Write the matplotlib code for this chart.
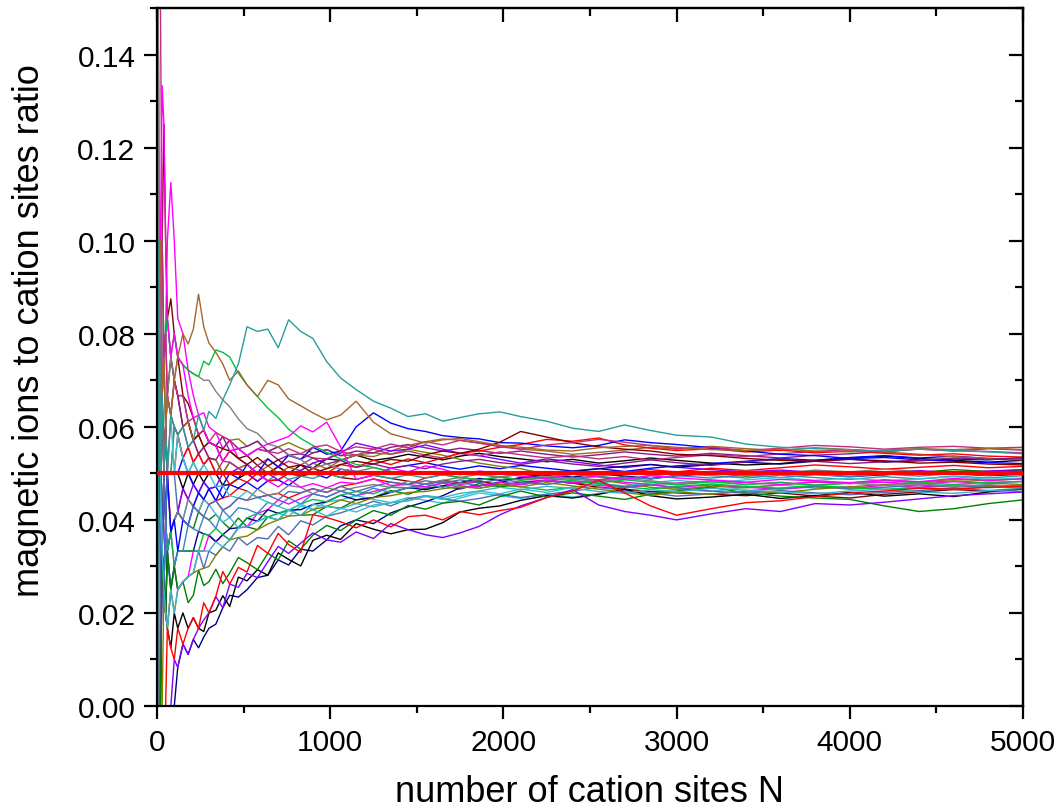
import numpy as np
import matplotlib
matplotlib.use("Agg")
import matplotlib.pyplot as plt
from matplotlib.ticker import MultipleLocator, FormatStrFormatter

plt.rcParams['font.family'] = ['Liberation Sans', 'DejaVu Sans']

# number of cation sites at which each run is sampled
sites_n = [5, 10, 20, 30, 40, 50, 60, 80, 100, 120, 150,
           180, 210, 240, 270, 300, 340, 380, 420, 470, 520, 580,
           640, 700, 760, 830, 900, 980, 1060, 1150, 1250, 1350, 1450,
           1550, 1650, 1750, 1860, 1980, 2100, 2250, 2400, 2550, 2700, 2850,
           3000, 3200, 3400, 3600, 3800, 4000, 4200, 4400, 4600, 4800, 5000]

# running ratio of magnetic ions per run, in units of 1e-4
teal_run = [0, 1000, 500, 667, 500, 600, 500, 625, 600, 583, 600,
            556, 571, 625, 593, 633, 618, 658, 690, 735, 815, 805,
            810, 770, 830, 805, 790, 740, 705, 680, 655, 640, 622,
            628, 612, 620, 628, 632, 622, 612, 597, 590, 604, 592,
            582, 578, 563, 556, 553, 551, 548, 552, 549, 546, 542]
brown_run = [0, 1000, 1000, 667, 750, 600, 667, 625, 700, 750, 800,
             778, 810, 885, 815, 780, 760, 735, 700, 720, 690, 665,
             700, 690, 660, 645, 630, 615, 625, 655, 610, 585, 575,
             565, 572, 575, 568, 560, 556, 550, 548, 555, 558, 560,
             556, 551, 549, 552, 548, 546, 550, 553, 551, 554, 551]
blue_run = [0, 0, 500, 333, 500, 400, 500, 375, 400, 333, 400,
            389, 429, 458, 444, 467, 441, 474, 500, 489, 519, 500,
            531, 514, 539, 530, 556, 541, 548, 600, 630, 608, 596,
            590, 581, 577, 574, 566, 565, 559, 555, 560, 572, 566,
            562, 555, 548, 541, 538, 532, 534, 529, 526, 523, 521]
red_low_run = [0, 0, 0, 0, 0, 0, 167, 125, 100, 167, 133,
               167, 190, 167, 222, 200, 236, 289, 262, 298, 288, 345,
               328, 371, 347, 330, 411, 405, 396, 383, 400, 385, 407,
               410, 400, 418, 411, 420, 427, 448, 462, 485, 458, 430,
               410, 424, 437, 441, 450, 458, 462, 468, 466, 470, 472]
violet_low_run = [0, 0, 0, 0, 0, 0, 0, 0, 100, 83, 133,
                  111, 143, 167, 185, 200, 235, 211, 262, 255, 285, 276,
                  310, 343, 328, 350, 372, 357, 352, 374, 360, 392, 379,
                  368, 362, 372, 386, 411, 430, 448, 465, 432, 418, 410,
                  400, 413, 424, 418, 435, 432, 438, 445, 452, 456, 460]
black_low_run = [0, 0, 500, 333, 250, 200, 167, 125, 200, 167, 200,
                 167, 190, 167, 160, 200, 206, 237, 214, 277, 269, 293,
                 281, 329, 315, 301, 356, 367, 358, 392, 380, 370, 379,
                 380, 394, 417, 425, 430, 442, 452, 447, 455, 466, 452,
                 445, 449, 455, 446, 452, 459, 451, 456, 450, 460, 466]
green_low_run = [0, 0, 0, 333, 250, 200, 333, 250, 300, 250, 267,
                 222, 238, 292, 259, 267, 294, 263, 286, 319, 308, 293,
                 328, 314, 355, 337, 367, 388, 377, 400, 420, 410, 431,
                 423, 436, 440, 432, 450, 462, 449, 458, 451, 444, 455,
                 462, 470, 458, 451, 447, 444, 430, 418, 424, 435, 443]
wine_run = [0, 1000, 1000, 1000, 1250, 1000, 833, 875, 800, 750, 667,
            650, 619, 583, 593, 567, 559, 553, 548, 532, 519, 534,
            516, 529, 513, 518, 500, 510, 519, 526, 520, 530, 526,
            540, 548, 543, 552, 567, 590, 578, 566, 557, 552, 548,
            541, 538, 532, 528, 526, 530, 527, 522, 524, 520, 518]
wine_b_run = [2000, 1000, 500, 667, 500, 600, 667, 750, 700, 667, 600,
              611, 571, 583, 556, 567, 559, 526, 548, 532, 538, 517,
              500, 514, 500, 494, 511, 500, 491, 487, 496, 489, 483,
              477, 485, 480, 484, 475, 480, 484, 479, 470, 466, 461,
              458, 455, 452, 458, 451, 447, 455, 460, 465, 462, 466]
magenta_run = [0, 1000, 1000, 1333, 1250, 1000, 833, 750, 800, 750, 733,
               667, 619, 625, 593, 567, 559, 526, 548, 553, 538, 552,
               563, 571, 579, 602, 589, 610, 557, 487, 496, 511, 503,
               516, 509, 497, 505, 500, 494, 489, 498, 492, 487, 495,
               490, 486, 481, 487, 484, 480, 486, 482, 489, 485, 488]
magenta_b_run = [0, 1000, 1000, 667, 750, 800, 1000, 1125, 1000, 833, 800,
                 722, 667, 625, 630, 600, 588, 553, 571, 532, 519, 500,
                 484, 471, 487, 470, 478, 469, 481, 478, 488, 474, 476,
                 471, 479, 469, 473, 480, 476, 484, 479, 486, 481, 476,
                 479, 484, 480, 476, 482, 478, 481, 477, 482, 479, 483]
pink_run = [2000, 2000, 1500, 1000, 750, 800, 667, 625, 700, 667, 667,
            611, 619, 583, 593, 567, 588, 579, 571, 553, 538, 552,
            547, 543, 553, 542, 556, 561, 547, 557, 552, 563, 555,
            568, 561, 571, 565, 557, 552, 561, 566, 573, 567, 560,
            553, 556, 549, 554, 560, 557, 552, 556, 558, 554, 556]
pink_b_run = [2000, 1000, 1000, 667, 500, 600, 500, 625, 600, 583, 533,
              556, 524, 542, 519, 533, 500, 526, 524, 511, 500, 517,
              531, 514, 526, 518, 533, 531, 547, 539, 552, 541, 548,
              539, 533, 543, 538, 546, 540, 533, 538, 531, 536, 529,
              534, 540, 536, 542, 547, 551, 546, 553, 549, 547, 544]
purple_run = [2000, 1000, 1000, 1000, 750, 800, 833, 750, 700, 667, 600,
              556, 571, 542, 556, 533, 529, 553, 571, 553, 558, 569,
              547, 557, 539, 542, 533, 520, 528, 513, 520, 511, 517,
              510, 520, 526, 530, 523, 519, 527, 520, 515, 522, 529,
              523, 517, 525, 530, 526, 521, 525, 528, 533, 530, 532]
olive_run = [0, 1000, 500, 667, 500, 600, 500, 500, 600, 583, 600,
             611, 571, 583, 556, 567, 559, 579, 571, 574, 558, 569,
             547, 557, 566, 554, 544, 551, 538, 539, 544, 541, 552,
             545, 539, 530, 522, 515, 510, 498, 490, 486, 478, 470,
             466, 472, 469, 475, 481, 478, 485, 481, 487, 484, 489]
navy_run = [0, 0, 0, 0, 0, 0, 0, 0, 0, 83, 133,
            111, 143, 125, 148, 167, 176, 211, 238, 234, 250, 276,
            281, 314, 303, 337, 333, 357, 387, 400, 392, 415, 428,
            439, 452, 469, 473, 480, 491, 499, 504, 510, 515, 519,
            513, 519, 524, 520, 526, 531, 524, 527, 531, 529, 534]
royal_run = [0, 0, 0, 333, 250, 200, 167, 250, 300, 250, 267,
             278, 286, 333, 296, 333, 324, 342, 333, 362, 346, 362,
             359, 386, 368, 398, 389, 408, 415, 426, 440, 430, 445,
             452, 445, 440, 446, 455, 448, 455, 462, 470, 463, 458,
             451, 456, 462, 468, 472, 466, 470, 475, 470, 474, 471]
cyan_run = [0, 1000, 500, 333, 500, 400, 333, 375, 400, 417, 400,
            444, 429, 417, 444, 433, 412, 395, 405, 383, 404, 397,
            406, 414, 408, 430, 422, 439, 443, 452, 444, 437, 448,
            442, 436, 447, 458, 452, 446, 455, 449, 457, 462, 456,
            466, 461, 470, 475, 468, 472, 466, 470, 474, 469, 473]
cyan_b_run = [2000, 1000, 1000, 667, 750, 600, 667, 625, 500, 583, 533,
              500, 524, 500, 519, 500, 471, 474, 452, 447, 462, 448,
              438, 429, 421, 434, 422, 408, 425, 417, 432, 437, 441,
              450, 444, 451, 462, 456, 466, 459, 470, 478, 473, 480,
              485, 479, 486, 491, 485, 490, 484, 488, 493, 487, 490]
gray_run = [2000, 1000, 500, 667, 750, 600, 667, 750, 700, 750, 733,
            722, 714, 708, 700, 700, 676, 658, 643, 617, 596, 586,
            563, 557, 540, 530, 511, 520, 509, 504, 512, 504, 497,
            503, 497, 491, 498, 492, 486, 493, 488, 482, 489, 484,
            478, 483, 476, 481, 475, 479, 474, 478, 472, 476, 470]
lime_run = [0, 1000, 1000, 1000, 750, 800, 833, 750, 800, 750, 733,
            722, 714, 708, 741, 733, 765, 760, 750, 715, 690, 665,
            640, 620, 595, 575, 560, 545, 531, 519, 513, 504, 496,
            503, 497, 491, 486, 492, 485, 490, 484, 479, 486, 481,
            475, 482, 476, 480, 474, 479, 485, 480, 476, 481, 482]
steel_run = [0, 0, 500, 333, 250, 400, 333, 250, 300, 333, 333,
             389, 381, 375, 407, 400, 382, 421, 405, 426, 423, 414,
             438, 429, 447, 434, 456, 449, 462, 452, 468, 459, 469,
             477, 470, 480, 473, 482, 476, 485, 491, 484, 492, 488,
             495, 490, 496, 491, 497, 493, 499, 494, 500, 496, 501]
black_run = [0, 1000, 500, 333, 500, 400, 500, 500, 500, 500, 467,
             500, 476, 500, 481, 500, 500, 474, 476, 489, 500, 483,
             500, 514, 500, 518, 511, 531, 528, 539, 528, 533, 541,
             535, 529, 537, 543, 536, 531, 525, 530, 522, 527, 533,
             528, 522, 518, 521, 528, 533, 537, 532, 528, 524, 528]
red_run = [0, 0, 500, 333, 500, 600, 500, 500, 500, 583, 533,
           556, 524, 542, 519, 533, 500, 500, 476, 489, 481, 500,
           484, 486, 500, 494, 511, 500, 519, 513, 528, 519, 531,
           523, 533, 543, 548, 556, 562, 573, 569, 576, 561, 554,
           549, 553, 546, 550, 544, 548, 543, 539, 542, 537, 535]
violet_run = [0, 0, 0, 333, 250, 400, 333, 375, 400, 417, 467,
              444, 476, 458, 481, 467, 471, 500, 500, 511, 500, 483,
              500, 486, 500, 506, 522, 531, 543, 565, 556, 548, 552,
              561, 552, 543, 538, 530, 522, 531, 525, 518, 512, 519,
              513, 508, 503, 507, 502, 497, 502, 506, 501, 505, 508]
brown_b_run = [2000, 1000, 1000, 667, 500, 600, 667, 625, 600, 583, 600,
               611, 571, 542, 556, 533, 529, 500, 524, 511, 519, 500,
               516, 500, 513, 506, 522, 510, 528, 539, 536, 548, 560,
               568, 574, 571, 565, 560, 552, 548, 541, 545, 550, 556,
               552, 558, 553, 549, 555, 551, 546, 541, 536, 532, 529]
green_run = [0, 0, 500, 333, 250, 200, 333, 375, 400, 417, 400,
             389, 381, 417, 407, 400, 412, 395, 381, 404, 385, 379,
             406, 400, 421, 410, 411, 429, 425, 443, 448, 463, 455,
             468, 473, 466, 478, 471, 476, 484, 479, 486, 493, 488,
             495, 500, 494, 499, 506, 501, 497, 502, 508, 504, 507]
olive_b_run = [0, 0, 0, 0, 250, 200, 167, 250, 200, 250, 267,
               278, 286, 292, 296, 300, 324, 342, 357, 362, 365, 379,
               391, 400, 408, 410, 422, 429, 443, 435, 448, 452, 459,
               461, 467, 471, 468, 476, 471, 480, 473, 466, 459, 452,
               460, 455, 462, 458, 466, 471, 476, 480, 484, 479, 476]
aqua_run = [0, 0, 500, 333, 250, 200, 167, 250, 200, 250, 267,
            278, 286, 333, 333, 333, 353, 342, 357, 383, 385, 397,
            406, 400, 421, 410, 433, 429, 424, 435, 428, 437, 441,
            452, 448, 457, 462, 470, 465, 472, 468, 461, 457, 465,
            460, 468, 464, 460, 456, 462, 466, 460, 457, 463, 461]
royal_b_run = [2000, 1000, 500, 333, 500, 400, 500, 500, 500, 417, 400,
               389, 429, 417, 407, 433, 441, 421, 429, 447, 442, 448,
               453, 443, 461, 458, 467, 459, 472, 461, 472, 481, 476,
               484, 479, 486, 480, 487, 481, 476, 484, 479, 471, 476,
               469, 462, 457, 463, 458, 454, 459, 463, 468, 463, 467]
blue_b_run = [0, 1000, 500, 667, 500, 600, 500, 500, 500, 500, 533,
              500, 476, 458, 481, 467, 471, 447, 476, 468, 481, 466,
              484, 486, 474, 494, 500, 490, 509, 504, 496, 511, 517,
              523, 515, 509, 516, 510, 517, 511, 505, 510, 504, 511,
              516, 521, 526, 532, 528, 534, 538, 533, 537, 532, 530]
purple_b_run = [0, 1000, 1000, 667, 750, 800, 667, 625, 700, 667, 667,
                611, 571, 583, 593, 567, 559, 579, 548, 553, 538, 552,
                547, 529, 539, 530, 544, 551, 538, 548, 544, 556, 562,
                555, 548, 554, 549, 543, 548, 541, 535, 540, 546, 541,
                537, 543, 538, 533, 539, 542, 547, 552, 548, 553, 550]
gray_b_run = [0, 0, 500, 333, 500, 400, 500, 375, 400, 417, 400,
              444, 429, 458, 444, 467, 441, 421, 429, 447, 442, 466,
              453, 457, 474, 470, 456, 469, 462, 470, 476, 470, 483,
              477, 485, 491, 486, 492, 498, 493, 500, 495, 502, 497,
              503, 498, 505, 500, 507, 503, 509, 504, 498, 502, 497]
navy_b_run = [0, 0, 0, 333, 250, 200, 333, 250, 300, 333, 333,
              333, 333, 375, 370, 367, 353, 368, 381, 383, 404, 397,
              422, 414, 421, 422, 433, 439, 453, 443, 448, 459, 469,
              465, 473, 480, 489, 485, 490, 496, 492, 499, 494, 489,
              495, 500, 497, 503, 498, 493, 497, 502, 499, 495, 498]
teal_b_run = [0, 1000, 500, 333, 500, 600, 500, 500, 600, 583, 533,
              500, 524, 500, 519, 533, 529, 500, 524, 511, 519, 500,
              484, 500, 487, 494, 489, 500, 491, 504, 496, 489, 497,
              490, 497, 503, 497, 492, 498, 493, 487, 494, 488, 495,
              500, 495, 490, 496, 491, 487, 493, 488, 494, 490, 495]
red_b_run = [0, 1000, 500, 333, 250, 400, 500, 375, 400, 417, 467,
             444, 429, 417, 444, 433, 441, 447, 452, 468, 462, 448,
             453, 457, 447, 458, 467, 459, 472, 478, 488, 481, 476,
             490, 497, 491, 486, 492, 486, 493, 488, 495, 502, 508,
             503, 511, 506, 512, 518, 514, 509, 513, 517, 512, 515]
lime_b_run = [0, 0, 500, 333, 500, 400, 333, 375, 300, 333, 333,
              333, 333, 333, 370, 367, 382, 368, 357, 383, 404, 414,
              406, 414, 421, 434, 444, 439, 453, 461, 456, 470, 469,
              471, 479, 474, 468, 475, 471, 464, 470, 476, 471, 466,
              472, 477, 472, 468, 474, 469, 465, 470, 466, 471, 468]
magenta_c_run = [0, 0, 0, 333, 250, 400, 333, 375, 300, 250, 267,
                 278, 333, 333, 333, 367, 353, 368, 357, 383, 385, 414,
                 422, 443, 434, 446, 456, 449, 462, 452, 461, 470, 469,
                 477, 482, 476, 482, 475, 481, 486, 480, 474, 469, 475,
                 470, 475, 470, 466, 471, 468, 474, 470, 476, 472, 475]

expected_ratio = 0.05

runs = [
    (black_run, '#000000'), (red_b_run, '#FF0000'), (green_run, '#008000'),
    (blue_b_run, '#0000FF'), (cyan_run, '#33C3D3'), (magenta_c_run, '#FF00FF'),
    (olive_run, '#808000'), (navy_b_run, '#000080'), (purple_b_run, '#8B1A8B'),
    (wine_b_run, '#800000'), (teal_b_run, '#2A9D9D'), (royal_run, '#4F6CB5'),
    (brown_b_run, '#A5662B'), (violet_run, '#8000FF'), (pink_b_run, '#C22C7E'),
    (gray_b_run, '#808080'), (lime_b_run, '#00C040'), (steel_run, '#3C82C8'),
    (navy_run, '#000080'), (black_low_run, '#000000'), (red_run, '#FF0000'),
    (green_low_run, '#008000'), (blue_run, '#0000FF'), (cyan_b_run, '#33C3D3'),
    (magenta_b_run, '#FF00FF'), (olive_b_run, '#808000'), (purple_run, '#8B1A8B'),
    (wine_run, '#800000'), (royal_b_run, '#4F6CB5'), (aqua_run, '#3CB4C8'),
    (gray_run, '#808080'), (lime_run, '#00C040'), (pink_run, '#C22C7E'),
    (violet_low_run, '#8000FF'), (red_low_run, '#FF0000'), (magenta_run, '#FF00FF'),
    (brown_run, '#A5662B'), (teal_run, '#2A9D9D'),
]

fig = plt.figure(figsize=(10.62, 8.12), dpi=100)
ax = fig.add_axes([0.1478, 0.1293, 0.8155, 0.8596])

x = np.array(sites_n)
for values, color in runs:
    ax.plot(x, np.array(values) / 1e4, color=color, lw=1.0)

ax.axhline(expected_ratio, color='#FF0000', lw=3.0, zorder=5)

ax.set_xlim(0, 5000)
ax.set_ylim(0, 0.15)
ax.xaxis.set_major_locator(MultipleLocator(1000))
ax.xaxis.set_minor_locator(MultipleLocator(500))
ax.yaxis.set_major_locator(MultipleLocator(0.02))
ax.yaxis.set_minor_locator(MultipleLocator(0.01))
ax.yaxis.set_major_formatter(FormatStrFormatter('%.2f'))

for sp in ax.spines.values():
    sp.set_linewidth(1.6)
ax.tick_params(which='both', direction='out', width=1.6, labelsize=21.5, pad=6)
ax.tick_params(which='major', length=9.5)
ax.tick_params(which='minor', length=5)

# mirrored inward ticks on the top and right edges
top = ax.secondary_xaxis('top')
top.xaxis.set_major_locator(MultipleLocator(1000))
top.xaxis.set_minor_locator(MultipleLocator(500))
top.tick_params(which='both', direction='in', width=1.6, labeltop=False)
top.tick_params(which='major', length=10)
top.tick_params(which='minor', length=5.5)
right = ax.secondary_yaxis('right')
right.yaxis.set_major_locator(MultipleLocator(0.02))
right.yaxis.set_minor_locator(MultipleLocator(0.01))
right.tick_params(which='both', direction='in', width=1.6, labelright=False)
right.tick_params(which='major', length=10)
right.tick_params(which='minor', length=5.5)
for sec in (top, right):
    for sp in sec.spines.values():
        sp.set_linewidth(1.6)

ax.set_xlabel('number of cation sites N', fontsize=26)
ax.xaxis.set_label_coords(0.5, -0.098)
ax.set_ylabel('magnetic ions to cation sites ratio', fontsize=26)
ax.yaxis.set_label_coords(-0.147, 0.54)
ax.yaxis.label.set_va('center')

fig.savefig('out.png', dpi=100)
